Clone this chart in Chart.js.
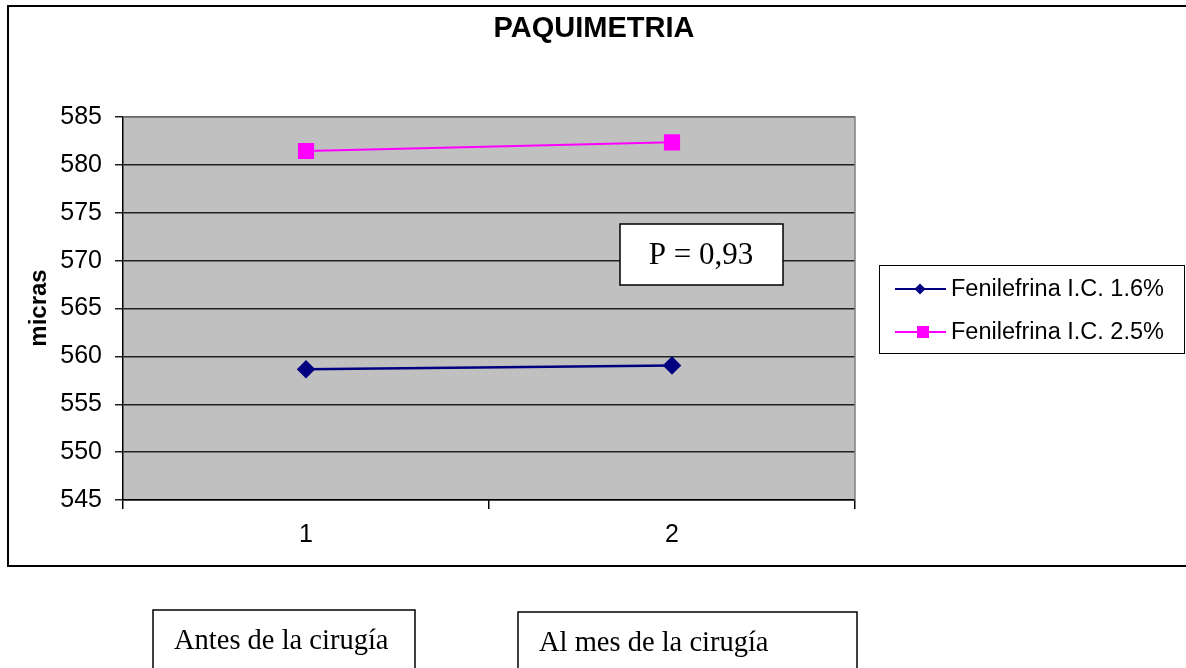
<!DOCTYPE html>
<html>
<head>
<meta charset="utf-8">
<script src="https://cdn.jsdelivr.net/npm/chart.js@4.4.0/dist/chart.umd.min.js"></script>
<style>
  html, body { margin: 0; padding: 0; background: #fff; }
  #wrap { width: 1186px; height: 668px; position: relative; }
</style>
</head>
<body>
<div id="wrap"><canvas id="chart"></canvas></div>
<script>
// data
const categories = ['1', '2'];
const fenil16 = [558.65, 559.05];
const fenil25 = [581.45, 582.35];
const seriesNames = ['Fenilefrina I.C. 1.6%', 'Fenilefrina I.C. 2.5%'];
const chartTitle = 'PAQUIMETRIA';
const yTitle = 'micras';
const pValue = 'P = 0,93';
const periodLabels = ['Antes de la cirugía', 'Al mes de la cirugía'];

const blue = '#000080';
const pink = '#FF00FF';
const sans = '"Liberation Sans", Arial, sans-serif';
const serif = '"Liberation Serif", "Times New Roman", serif';

// draws frame, background, title, legend and text boxes
const extras = {
  id: 'extras',
  beforeDraw(chart) {
    const { ctx, chartArea: a } = chart;
    ctx.save();
    ctx.fillStyle = '#C0C0C0';
    ctx.fillRect(a.left, a.top, a.right - a.left, a.bottom - a.top);
    ctx.restore();
  },
  afterDraw(chart) {
    const { ctx, chartArea: a } = chart;
    ctx.save();
    // plot border
    ctx.strokeStyle = '#808080';
    ctx.lineWidth = 1.5;
    ctx.beginPath();
    ctx.moveTo(a.left, a.top);
    ctx.lineTo(a.right, a.top);
    ctx.lineTo(a.right, a.bottom);
    ctx.stroke();

    // outer frame (right side runs off the page)
    ctx.strokeStyle = '#000';
    ctx.lineWidth = 2;
    ctx.strokeRect(8, 6, 1200, 560);

    // title
    ctx.fillStyle = '#000';
    ctx.font = 'bold 29px ' + sans;
    ctx.textAlign = 'center';
    ctx.textBaseline = 'middle';
    ctx.fillText(chartTitle, 594, 29);

    // y title
    ctx.save();
    ctx.translate(39, 308);
    ctx.rotate(-Math.PI / 2);
    ctx.font = 'bold 24px ' + sans;
    ctx.fillText(yTitle, 0, 0);
    ctx.restore();

    // legend
    ctx.lineWidth = 1;
    ctx.strokeStyle = '#000';
    ctx.fillStyle = '#fff';
    ctx.fillRect(879, 265, 306, 88);
    ctx.strokeRect(879.5, 265.5, 305, 88);
    const rows = [289, 332];
    chart.data.datasets.forEach((ds, i) => {
      const y = rows[i];
      ctx.strokeStyle = ds.borderColor;
      ctx.lineWidth = 2;
      ctx.beginPath();
      ctx.moveTo(895, y);
      ctx.lineTo(946, y);
      ctx.stroke();
      ctx.fillStyle = ds.borderColor;
      if (ds.pointStyle === 'rectRot') {
        ctx.beginPath();
        ctx.moveTo(920, y - 5.5);
        ctx.lineTo(925.5, y);
        ctx.lineTo(920, y + 5.5);
        ctx.lineTo(914.5, y);
        ctx.closePath();
        ctx.fill();
      } else {
        ctx.fillRect(917, y - 6, 12, 12);
      }
      ctx.fillStyle = '#000';
      ctx.font = '23.5px ' + sans;
      ctx.textAlign = 'left';
      ctx.textBaseline = 'middle';
      ctx.fillText(ds.label, 951, y + 1);
    });

    // P box
    ctx.fillStyle = '#fff';
    ctx.fillRect(620, 224, 163, 61);
    ctx.strokeStyle = '#000';
    ctx.lineWidth = 1.5;
    ctx.strokeRect(620, 224, 163, 61);
    ctx.fillStyle = '#000';
    ctx.font = '31px ' + serif;
    ctx.textAlign = 'center';
    ctx.textBaseline = 'middle';
    ctx.fillText(pValue, 701, 256);

    // period boxes below the chart
    const boxes = [[153, 610, 262], [518, 612, 339]];
    ctx.font = '28.5px ' + serif;
    ctx.textAlign = 'left';
    ctx.textBaseline = 'alphabetic';
    boxes.forEach((b, i) => {
      ctx.strokeStyle = '#000';
      ctx.lineWidth = 1.5;
      ctx.beginPath();
      ctx.moveTo(b[0], 672);
      ctx.lineTo(b[0], b[1]);
      ctx.lineTo(b[0] + b[2], b[1]);
      ctx.lineTo(b[0] + b[2], 672);
      ctx.stroke();
      ctx.fillStyle = '#000';
      ctx.fillText(periodLabels[i], b[0] + 21, b[1] + 39);
    });
    ctx.restore();
  }
};

new Chart(document.getElementById('chart'), {
  type: 'line',
  data: {
    labels: categories,
    datasets: [
      {
        label: seriesNames[0],
        data: fenil16,
        borderColor: blue,
        backgroundColor: blue,
        borderWidth: 2.5,
        pointStyle: 'rectRot',
        pointRadius: 7.5,
        pointHoverRadius: 7.5
      },
      {
        label: seriesNames[1],
        data: fenil25,
        borderColor: pink,
        backgroundColor: pink,
        borderWidth: 2,
        pointStyle: 'rect',
        pointRadius: 10,
        pointHoverRadius: 10
      }
    ]
  },
  options: {
    responsive: true,
    maintainAspectRatio: false,
    animation: false,
    events: [],
    layout: { padding: { left: 0, right: 331, top: 117, bottom: 0 } },
    plugins: {
      legend: { display: false },
      title: { display: false },
      tooltip: { enabled: false }
    },
    scales: {
      x: {
        offset: true,
        afterFit(scale) { scale.height = 168; },
        grid: {
          offset: true,
          drawOnChartArea: false,
          drawTicks: true,
          tickLength: 9,
          color: '#000',
          lineWidth: 1.5
        },
        border: { color: '#000', width: 1.5 },
        ticks: {
          color: '#000',
          padding: 11,
          font: { family: sans, size: 25 }
        }
      },
      y: {
        min: 545,
        max: 585,
        afterFit(scale) { scale.width = 123; },
        ticks: {
          stepSize: 5,
          color: '#000',
          padding: 13,
          font: { family: sans, size: 25 }
        },
        grid: {
          color: '#222',
          lineWidth: 1.5,
          tickLength: 8
        },
        border: { color: '#000', width: 1.5 }
      }
    }
  },
  plugins: [extras]
});
</script>
</body>
</html>
